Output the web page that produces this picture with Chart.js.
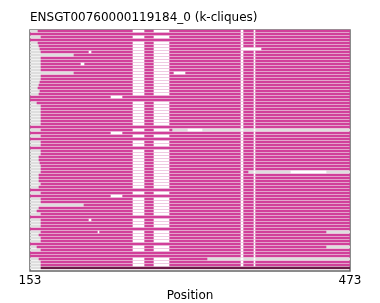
<!DOCTYPE html>
<html>
<head>
<meta charset="utf-8">
<script src="https://cdn.jsdelivr.net/npm/chart.js@4/dist/chart.umd.min.js"></script>
<style>
  html, body { margin: 0; padding: 0; background: #fff; }
  #wrap { width: 380px; height: 303px; }
</style>
</head>
<body>
<div id="wrap"><canvas id="myChart" width="380" height="303"></canvas></div>
<script>
var chartTitle = 'ENSGT00760000119184_0 (k-cliques)';
var xTicks = [153, 473];

// where the clique (magenta) starts in each sequence, top row first
var rowStart = [
  161, 153, 164, 153, 161, 162, 163, 164, 197, 164,
  164, 164, 164, 164, 197, 164, 164, 163, 162, 161,
  163, 162, 153, 153, 160, 164, 164, 164, 164, 164,
  164, 164, 153, 164, 153, 164, 153, 164, 164, 153,
  164, 164, 162, 162, 163, 164, 164, 164, 162, 162,
  162, 164, 162, 153, 164, 153, 164, 164, 207, 162,
  160, 164, 153, 164, 164, 164, 153, 164, 162, 164,
  164, 153, 160, 164, 153, 153, 162, 164, 164, 164
];

// rows whose clique stops early: [row, end]
var rowCuts = [[33, 295], [47, 371], [67, 449], [72, 449], [76, 330]];

// alignment gap columns shared by most sequences
var gapCols = [[256, 267], [277, 292], [364, 366], [377, 378]];

// other gaps seen in single rows: [row, from, to]
var extraGaps = [
  [6, 366, 384], [7, 212, 214], [11, 204, 207], [14, 297, 308],
  [22, 234, 245], [33, 311, 325], [34, 234, 245], [47, 414, 449],
  [55, 234, 245], [63, 212, 214], [67, 221, 222]
];

var labels = [];
var grayData = [];
var pinkData = [];
var pinkColors = [];
for (var i = 0; i < rowStart.length; i++) {
  labels.push('s' + (i + 1));
  grayData.push([153, 473]);
  pinkData.push([rowStart[i], 473]);
  pinkColors.push(i === rowStart.length - 1 ? '#6b1b47' : '#d1409a');
}
rowCuts.forEach(function(c) { pinkData[c[0]][1] = c[1]; });

var datasets = [];
gapCols.forEach(function(g, k) {
  var d = [];
  for (var i = 0; i < rowStart.length; i++) {
    var full = rowStart[i] === 153;
    if (i === rowStart.length - 1 || (full && k < 2)) d.push(null);
    else d.push([g[0], g[1]]);
  }
  datasets.push({ data: d, backgroundColor: '#ffffff', order: 0 });
});
var extra = labels.map(function() { return null; });
extraGaps.forEach(function(e) { extra[e[0]] = [e[1], e[2]]; });
datasets.push({ data: extra, backgroundColor: '#ffffff', order: 0 });
datasets.push({ data: pinkData, backgroundColor: pinkColors, order: 1 });
datasets.push({ data: grayData, backgroundColor: '#dedede', order: 2 });

var framePlugin = {
  id: 'frame',
  beforeDatasetsDraw: function(chart) {
    var a = chart.chartArea;
    var ctx = chart.ctx;
    ctx.save();
    ctx.strokeStyle = '#666';
    ctx.lineWidth = 1.5;
    ctx.strokeRect(a.left, Math.round(a.top), a.right - a.left, Math.round(a.bottom) + 1 - Math.round(a.top));
    ctx.restore();
  }
};

var ctx = document.getElementById('myChart').getContext('2d');
var myChart = new Chart(ctx, {
  type: 'bar',
  data: { labels: labels, datasets: datasets },
  plugins: [framePlugin],
  options: {
    indexAxis: 'y',
    responsive: false,
    animation: false,
    barThickness: 2,
    borderWidth: 0,
    layout: { padding: { left: 30, right: 30, top: 11, bottom: 0 } },
    plugins: {
      legend: { display: false },
      tooltip: { enabled: false },
      title: {
        display: true,
        text: chartTitle,
        align: 'start',
        color: '#000',
        font: { family: 'DejaVu Sans', size: 12, weight: 'normal' },
        padding: { top: 0, bottom: 4.1 }
      }
    },
    scales: {
      y: { type: 'category', display: false, stacked: true },
      x: {
        type: 'linear',
        min: 153,
        max: 473,
        stacked: false,
        grid: { display: false, drawTicks: false },
        border: { display: false },
        afterBuildTicks: function(axis) {
          axis.ticks = xTicks.map(function(v) { return { value: v }; });
        },
        afterFit: function(axis) {
          axis.height = 33.5;
        },
        ticks: {
          color: '#000',
          padding: 4.3,
          maxRotation: 0,
          font: { family: 'DejaVu Sans', size: 12 }
        },
        title: {
          display: true,
          text: 'Position',
          color: '#000',
          padding: { top: 0, bottom: 0 },
          font: { family: 'DejaVu Sans', size: 12 }
        }
      }
    }
  }
});
</script>
</body>
</html>
